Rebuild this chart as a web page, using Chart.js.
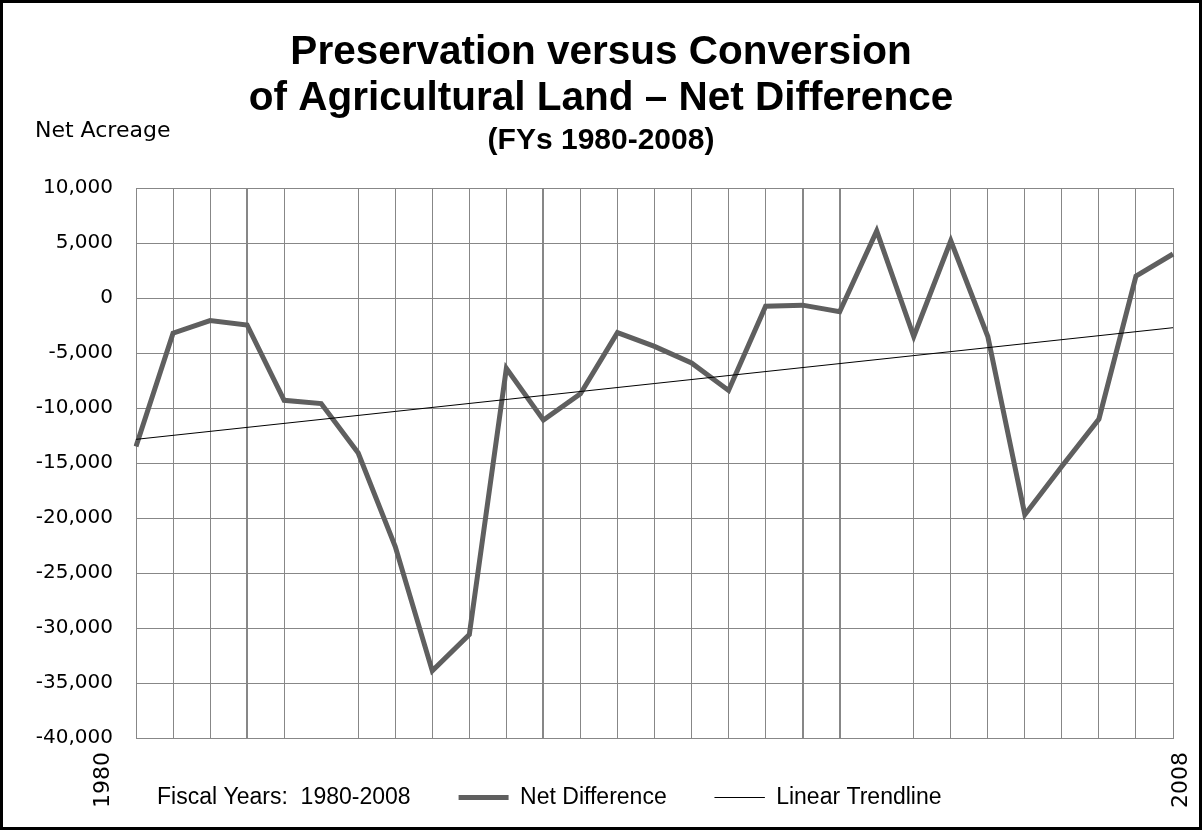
<!DOCTYPE html>
<html lang="en">
  <head>
    <meta charset="utf-8" />
    <title>Preservation versus Conversion of Agricultural Land</title>
    <script src="https://cdn.jsdelivr.net/npm/chart.js@4.4.1/dist/chart.umd.min.js"></script>
    <style>
      html,
      body {
        margin: 0;
        padding: 0;
        background: #fff;
      }

      #frame {
        width: 1196px;
        height: 824px;
        border: 3px solid #000;
      }

      canvas {
        display: block;
      }
    </style>
  </head>

  <body>
    <div id="frame"><canvas id="netChart" width="1196" height="824"></canvas></div>

    <script>
      // chart data
      const years = [
        "1980", "1981", "1982", "1983", "1984", "1985", "1986", "1987", "1988", "1989",
        "1990", "1991", "1992", "1993", "1994", "1995", "1996", "1997", "1998", "1999",
        "2000", "2001", "2002", "2003", "2004", "2005", "2006", "2007", "2008"
      ];
      const netDifference = [
        -13500, -3200, -2050, -2450, -9300, -9600, -14100, -22600, -33900, -30600,
        -6400, -11100, -8700, -3150, -4400, -5900, -8400, -750, -650, -1250,
        6100, -3500, 5200, -3500, -19700, -15300, -11000, 2000, 4000
      ];
      // trendline end points only, the line is drawn between them
      const trendline = [
        -12850, null, null, null, null, null, null, null, null, null,
        null, null, null, null, null, null, null, null, null, null,
        null, null, null, null, null, null, null, null, -2700
      ];
      const xEndLabels = ["1980", "2008"];
      const yMin = -40000;
      const yMax = 10000;
      const yStep = 5000;

      const titleLines = ["Preservation versus Conversion", "of Agricultural Land \u2013 Net Difference"];
      const subtitleText = "(FYs 1980-2008)";
      const yAxisLabel = "Net Acreage";
      const xAxisTitle = "Fiscal Years:  1980-2008";

      const SANS = "'Liberation Sans', Arial, sans-serif";
      const DEJAVU = "'DejaVu Sans', sans-serif";
      const GRID = "#878787";

      // the scanned original misses two year lines and has a few heavier ones
      const missingLines = [5, 20];
      const heavyLines = [3, 11, 18, 19];

      // horizontal y label, the two rotated end years, and a nudge for the legend row
      const extraText = {
        id: "extraText",
        afterLayout(chart) {
          chart.legend.left += 18.5;
        },
        afterDraw(chart) {
          const { ctx, chartArea } = chart;
          const x = chart.scales.x;
          ctx.save();
          ctx.fillStyle = "#000";
          ctx.font = "22px " + DEJAVU;
          ctx.textAlign = "left";
          ctx.textBaseline = "alphabetic";
          ctx.fillText(yAxisLabel, 32, chartArea.top - 51);

          ctx.textAlign = "right";
          ctx.textBaseline = "middle";
          const ends = [[0, -32.5], [years.length - 1, 8]];
          ends.forEach(([i, dx], k) => {
            ctx.save();
            ctx.translate(x.getPixelForValue(i) + dx, chartArea.bottom + 14);
            ctx.rotate(-Math.PI / 2);
            ctx.fillText(xEndLabels[k], 0, 0);
            ctx.restore();
          });
          ctx.restore();
        }
      };

      const ctx = document.getElementById("netChart").getContext("2d");
      new Chart(ctx, {
        type: "line",
        data: {
          labels: years,
          datasets: [
            {
              label: "Net Difference",
              data: netDifference,
              borderColor: "#5f5f5f",
              backgroundColor: "#5f5f5f",
              borderWidth: 5,
              pointRadius: 0,
              tension: 0,
              order: 1
            },
            {
              label: "Linear Trendline",
              data: trendline,
              borderColor: "#000",
              backgroundColor: "#000",
              borderWidth: 1,
              pointRadius: 0,
              spanGaps: true,
              order: 0
            }
          ]
        },
        options: {
          responsive: false,
          animation: false,
          devicePixelRatio: 1,
          layout: {
            padding: { top: 12, left: 26, right: 26, bottom: 8 }
          },
          plugins: {
            title: {
              display: true,
              text: titleLines,
              color: "#000",
              font: { family: SANS, size: 40.5, weight: "bold", lineHeight: "46px" },
              padding: { top: 15, bottom: 0 }
            },
            subtitle: {
              display: true,
              text: subtitleText,
              color: "#000",
              font: { family: SANS, size: 30, weight: "bold", lineHeight: "34px" },
              padding: { top: 1.6, bottom: 30.4 }
            },
            legend: {
              position: "bottom",
              align: "start",
              onClick: () => {},
              labels: {
                boxWidth: 50,
                boxHeight: 0,
                padding: 48,
                color: "#000",
                font: { family: SANS, size: 23 },
                generateLabels(chart) {
                  const items = Chart.defaults.plugins.legend.labels.generateLabels(chart);
                  items.sort((a, b) => a.datasetIndex - b.datasetIndex);
                  // axis caption sits in the legend row, with an empty sample
                  items.unshift({
                    text: xAxisTitle,
                    fillStyle: "rgba(0,0,0,0)",
                    strokeStyle: "rgba(0,0,0,0)",
                    lineWidth: 0,
                    hidden: false,
                    datasetIndex: -1
                  });
                  return items;
                }
              }
            },
            tooltip: { enabled: false }
          },
          scales: {
            x: {
              border: { color: GRID },
              grid: {
                drawTicks: false,
                color: (c) => (missingLines.includes(c.index) ? "rgba(0,0,0,0)" : GRID),
                lineWidth: (c) => (heavyLines.includes(c.index) ? 2 : 1)
              },
              ticks: { display: false }
            },
            y: {
              min: yMin,
              max: yMax,
              afterFit(scale) {
                scale.width = 107;
              },
              border: { color: GRID },
              grid: { color: GRID, drawTicks: false },
              ticks: {
                stepSize: yStep,
                padding: 23,
                color: "#000",
                font: { family: DEJAVU, size: 20 },
                callback: (v) => v.toLocaleString("en-US")
              }
            }
          }
        },
        plugins: [extraText]
      });
    </script>
  </body>
</html>
